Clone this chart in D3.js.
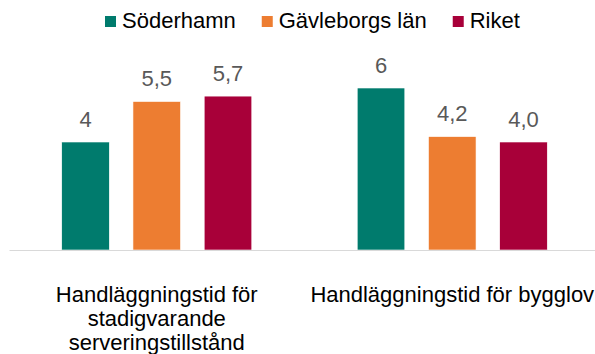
<!DOCTYPE html>
<html>
<head>
<meta charset="utf-8">
<script src="https://cdn.jsdelivr.net/npm/d3@7"></script>
<style>
  html, body { margin: 0; padding: 0; background: #fff; }
  svg { display: block; font-family: "Liberation Sans", Arial, sans-serif; }
</style>
</head>
<body>
<svg id="chart" width="595" height="354"></svg>
<script>
// Categories (x groups)
const categories = [
  "Handläggningstid för stadigvarande serveringstillstånd",
  "Handläggningstid för bygglov"
];
// Series
const seriesNames = ["Söderhamn", "Gävleborgs län", "Riket"];
const seriesColors = ["#007B6D", "#ED7D31", "#A80039"];
const soderhamn = [4, 6];
const gavleborg = [5.5, 4.2];
const riket = [5.7, 4.0];
// Value labels as printed above the bars
const soderhamnLabels = ["4", "6"];
const gavleborgLabels = ["5,5", "4,2"];
const riketLabels = ["5,7", "4,0"];

const seriesValues = [soderhamn, gavleborg, riket];
const seriesLabels = [soderhamnLabels, gavleborgLabels, riketLabels];

const svg = d3.select("#chart");
const fontSize = 22;

const plot = { left: 9, right: 600, top: 61, bottom: 250 };

const x0 = d3.scaleBand()
  .domain(categories)
  .range([plot.left, plot.right])
  .padding(0);

const x1 = d3.scaleBand()
  .domain(seriesNames)
  .range([0, x0.bandwidth()])
  .paddingInner(0.332)
  .paddingOuter(0.74);

const y = d3.scaleLinear()
  .domain([0, 7])
  .range([plot.bottom, plot.top]);

// Bars
const rows = [];
categories.forEach((c, ci) => {
  seriesNames.forEach((s, si) => {
    rows.push({ cat: c, series: s, color: seriesColors[si],
                value: seriesValues[si][ci], label: seriesLabels[si][ci] });
  });
});

svg.append("g").selectAll("rect")
  .data(rows)
  .join("rect")
  .attr("x", d => x0(d.cat) + x1(d.series))
  .attr("y", d => y(d.value))
  .attr("width", x1.bandwidth())
  .attr("height", d => y(0) - y(d.value))
  .attr("fill", d => d.color)
  .attr("stroke", "#ffffff")
  .attr("stroke-width", 0.6);

// Value labels
svg.append("g").selectAll("text")
  .data(rows)
  .join("text")
  .attr("x", d => x0(d.cat) + x1(d.series) + x1.bandwidth() / 2)
  .attr("y", d => y(d.value) - 15.5)
  .attr("text-anchor", "middle")
  .attr("font-size", fontSize)
  .attr("fill", "#595959")
  .text(d => d.label);

// Category axis
const xAxis = svg.append("g")
  .attr("transform", `translate(0,${plot.bottom})`)
  .call(d3.axisBottom(x0).tickSize(0).tickSizeOuter(0).tickFormat(""));
xAxis.select(".domain").attr("stroke", "#D9D9D9").attr("stroke-width", 1.2);

// Wrapped category labels
function wrapLines(text, maxWidth) {
  const words = text.split(" ");
  const probe = svg.append("text").attr("font-size", fontSize).attr("visibility", "hidden");
  const lines = [];
  let line = [];
  words.forEach(w => {
    const trial = line.concat([w]).join(" ");
    probe.text(trial);
    if (line.length && probe.node().getComputedTextLength() > maxWidth) {
      lines.push(line.join(" "));
      line = [w];
    } else {
      line.push(w);
    }
  });
  if (line.length) lines.push(line.join(" "));
  probe.remove();
  return lines;
}

const catLabels = svg.append("g");
categories.forEach(c => {
  const t = catLabels.append("text")
    .attr("x", x0(c) + x0.bandwidth() / 2)
    .attr("y", 302)
    .attr("text-anchor", "middle")
    .attr("font-size", fontSize)
    .attr("fill", "#000000");
  wrapLines(c, 292).forEach((ln, i) => {
    t.append("tspan")
      .attr("x", x0(c) + x0.bandwidth() / 2)
      .attr("dy", i === 0 ? 0 : 24)
      .text(ln);
  });
});

// Legend
const legend = svg.append("g").attr("transform", "translate(105,0)");
let lx = 0;
seriesNames.forEach((s, i) => {
  const g = legend.append("g").attr("transform", `translate(${lx},0)`);
  g.append("rect")
    .attr("x", 0).attr("y", 16)
    .attr("width", 11).attr("height", 11)
    .attr("fill", seriesColors[i]);
  const t = g.append("text")
    .attr("x", 17).attr("y", 28)
    .attr("font-size", fontSize)
    .attr("fill", "#000000")
    .text(s);
  lx += 17 + t.node().getComputedTextLength() + 26;
});
</script>
</body>
</html>
